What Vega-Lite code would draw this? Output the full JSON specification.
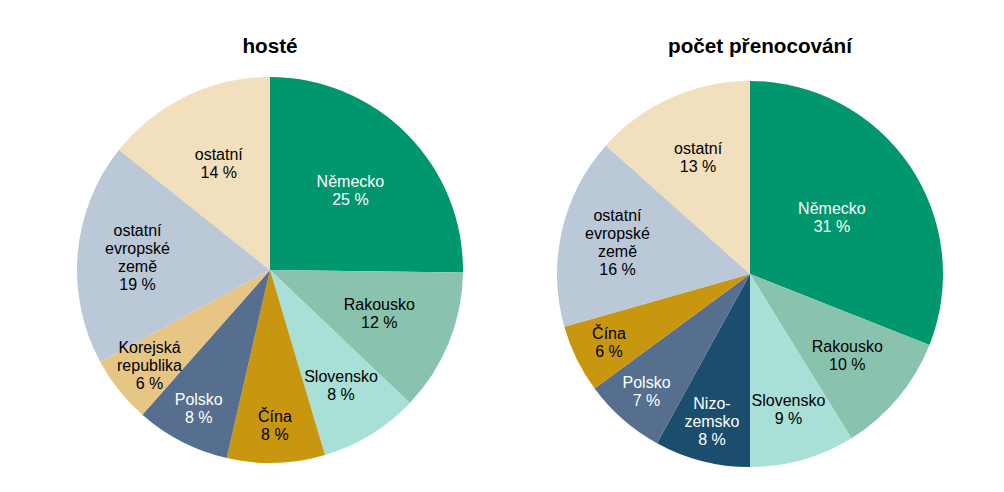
{
  "$schema": "https://vega.github.io/schema/vega-lite/v6.json",
  "padding": {"left": 77, "top": 36, "right": 0, "bottom": 0},
  "background": "white",
  "config": {
    "view": {"stroke": null},
    "font": "Liberation Sans",
    "title": {"fontSize": 20.7, "fontWeight": "bold", "color": "#000000", "offset": 18, "font": "Liberation Sans"}
  },
  "data": {
    "values": [
      {"graf": "hosté", "zeme": "Německo", "podil": 25.2, "poradi": 1, "popisek": "Německo\n25 %"},
      {"graf": "hosté", "zeme": "Rakousko", "podil": 11.9, "poradi": 2, "popisek": "Rakousko\n12 %"},
      {"graf": "hosté", "zeme": "Slovensko", "podil": 8.3, "poradi": 3, "popisek": "Slovensko\n8 %"},
      {"graf": "hosté", "zeme": "Čína", "podil": 8.2, "poradi": 4, "popisek": "Čína\n8 %"},
      {"graf": "hosté", "zeme": "Polsko", "podil": 7.9, "poradi": 5, "popisek": "Polsko\n8 %"},
      {"graf": "hosté", "zeme": "Korejská republika", "podil": 5.6, "poradi": 6, "popisek": "Korejská\nrepublika\n6 %"},
      {"graf": "hosté", "zeme": "ostatní evropské země", "podil": 18.6, "poradi": 7, "popisek": "ostatní\nevropské\nzemě\n19 %"},
      {"graf": "hosté", "zeme": "ostatní", "podil": 14.3, "poradi": 8, "popisek": "ostatní\n14 %"},
      {"graf": "počet přenocování", "zeme": "Německo", "podil": 31.0, "poradi": 1, "popisek": "Německo\n31 %"},
      {"graf": "počet přenocování", "zeme": "Rakousko", "podil": 10.2, "poradi": 2, "popisek": "Rakousko\n10 %"},
      {"graf": "počet přenocování", "zeme": "Slovensko", "podil": 8.8, "poradi": 3, "popisek": "Slovensko\n9 %"},
      {"graf": "počet přenocování", "zeme": "Nizozemsko", "podil": 8.0, "poradi": 4, "popisek": "Nizo-\nzemsko\n8 %"},
      {"graf": "počet přenocování", "zeme": "Polsko", "podil": 6.9, "poradi": 5, "popisek": "Polsko\n7 %"},
      {"graf": "počet přenocování", "zeme": "Čína", "podil": 5.7, "poradi": 6, "popisek": "Čína\n6 %"},
      {"graf": "počet přenocování", "zeme": "ostatní evropské země", "podil": 16.0, "poradi": 7, "popisek": "ostatní\nevropské\nzemě\n16 %"},
      {"graf": "počet přenocování", "zeme": "ostatní", "podil": 13.4, "poradi": 8, "popisek": "ostatní\n13 %"}
    ]
  },
  "spacing": 94,
  "hconcat": [
    {
      "title": "hosté",
      "width": 386,
      "height": 388,
      "transform": [{"filter": "datum.graf === 'hosté'"}],
      "encoding": {
        "theta": {"field": "podil", "type": "quantitative", "stack": true},
        "order": {"field": "poradi", "type": "quantitative"}
      },
      "layer": [
        {
          "mark": {"type": "arc", "outerRadius": 193},
          "encoding": {
            "color": {
              "field": "zeme",
              "type": "nominal",
              "legend": null,
              "scale": {
                "domain": ["Německo", "Rakousko", "Slovensko", "Nizozemsko", "Čína", "Polsko", "Korejská republika", "ostatní evropské země", "ostatní"],
                "range": ["#00966e", "#8ac3ad", "#a8dfd6", "#1a4d6e", "#c9960f", "#566f8e", "#e6c585", "#bac8d8", "#f1dfbe"]
              }
            }
          }
        },
        {
          "mark": {"type": "text", "radius": 113, "dy": -9, "fontSize": 16, "lineBreak": "\n", "lineHeight": 18, "baseline": "middle"},
          "encoding": {
            "text": {"field": "popisek"},
            "opacity": {"condition": {"test": "datum.zeme === 'Německo'", "value": 1}, "value": 0},
            "color": {"value": "#ffffff"}
          }
        },
        {
          "mark": {"type": "text", "radius": 118, "dy": -9, "fontSize": 16, "lineBreak": "\n", "lineHeight": 18, "baseline": "middle"},
          "encoding": {
            "text": {"field": "popisek"},
            "opacity": {"condition": {"test": "indexof(['Rakousko', 'ostatní'], datum.zeme) >= 0", "value": 1}, "value": 0},
            "color": {"value": "#000000"}
          }
        },
        {
          "mark": {"type": "text", "radius": 136, "dy": -9, "fontSize": 16, "lineBreak": "\n", "lineHeight": 18, "baseline": "middle"},
          "encoding": {
            "text": {"field": "popisek"},
            "opacity": {"condition": {"test": "datum.zeme === 'Slovensko'", "value": 1}, "value": 0},
            "color": {"value": "#000000"}
          }
        },
        {
          "mark": {"type": "text", "radius": 156, "dy": -9, "fontSize": 16, "lineBreak": "\n", "lineHeight": 18, "baseline": "middle"},
          "encoding": {
            "text": {"field": "popisek"},
            "opacity": {"condition": {"test": "indexof(['Čína', 'Polsko'], datum.zeme) >= 0", "value": 1}, "value": 0},
            "color": {"condition": {"test": "datum.zeme === 'Polsko'", "value": "#ffffff"}, "value": "#000000"}
          }
        },
        {
          "mark": {"type": "text", "radius": 154, "dy": -18, "fontSize": 16, "lineBreak": "\n", "lineHeight": 18, "baseline": "middle"},
          "encoding": {
            "text": {"field": "popisek"},
            "opacity": {"condition": {"test": "datum.zeme === 'Korejská republika'", "value": 1}, "value": 0},
            "color": {"value": "#000000"}
          }
        },
        {
          "mark": {"type": "text", "radius": 133, "dy": -27, "fontSize": 16, "lineBreak": "\n", "lineHeight": 18, "baseline": "middle"},
          "encoding": {
            "text": {"field": "popisek"},
            "opacity": {"condition": {"test": "datum.zeme === 'ostatní evropské země'", "value": 1}, "value": 0},
            "color": {"value": "#000000"}
          }
        }
      ]
    },
    {
      "title": {"text": "počet přenocování", "dx": 10},
      "width": 386,
      "height": 396,
      "transform": [{"filter": "datum.graf === 'počet přenocování'"}],
      "encoding": {
        "theta": {"field": "podil", "type": "quantitative", "stack": true},
        "order": {"field": "poradi", "type": "quantitative"}
      },
      "layer": [
        {
          "mark": {"type": "arc", "outerRadius": 193},
          "encoding": {
            "color": {"field": "zeme", "type": "nominal", "legend": null}
          }
        },
        {
          "mark": {"type": "text", "radius": 99, "dy": -9, "fontSize": 16, "lineBreak": "\n", "lineHeight": 18, "baseline": "middle"},
          "encoding": {
            "text": {"field": "popisek"},
            "opacity": {"condition": {"test": "datum.zeme === 'Německo'", "value": 1}, "value": 0},
            "color": {"value": "#ffffff"}
          }
        },
        {
          "mark": {"type": "text", "radius": 127, "dy": -9, "fontSize": 16, "lineBreak": "\n", "lineHeight": 18, "baseline": "middle"},
          "encoding": {
            "text": {"field": "popisek"},
            "opacity": {"condition": {"test": "indexof(['Rakousko', 'ostatní'], datum.zeme) >= 0", "value": 1}, "value": 0},
            "color": {"value": "#000000"}
          }
        },
        {
          "mark": {"type": "text", "radius": 141, "dy": -9, "fontSize": 16, "lineBreak": "\n", "lineHeight": 18, "baseline": "middle"},
          "encoding": {
            "text": {"field": "popisek"},
            "opacity": {"condition": {"test": "datum.zeme === 'Slovensko'", "value": 1}, "value": 0},
            "color": {"value": "#000000"}
          }
        },
        {
          "mark": {"type": "text", "radius": 157, "dy": -9, "fontSize": 16, "lineBreak": "\n", "lineHeight": 18, "baseline": "middle"},
          "encoding": {
            "text": {"field": "popisek"},
            "opacity": {"condition": {"test": "indexof(['Čína', 'Polsko'], datum.zeme) >= 0", "value": 1}, "value": 0},
            "color": {"condition": {"test": "datum.zeme === 'Polsko'", "value": "#ffffff"}, "value": "#000000"}
          }
        },
        {
          "mark": {"type": "text", "radius": 153, "dy": -18, "fontSize": 16, "lineBreak": "\n", "lineHeight": 18, "baseline": "middle"},
          "encoding": {
            "text": {"field": "popisek"},
            "opacity": {"condition": {"test": "datum.zeme === 'Nizozemsko'", "value": 1}, "value": 0},
            "color": {"value": "#ffffff"}
          }
        },
        {
          "mark": {"type": "text", "radius": 136, "dy": -27, "fontSize": 16, "lineBreak": "\n", "lineHeight": 18, "baseline": "middle"},
          "encoding": {
            "text": {"field": "popisek"},
            "opacity": {"condition": {"test": "datum.zeme === 'ostatní evropské země'", "value": 1}, "value": 0},
            "color": {"value": "#000000"}
          }
        }
      ]
    }
  ]
}
